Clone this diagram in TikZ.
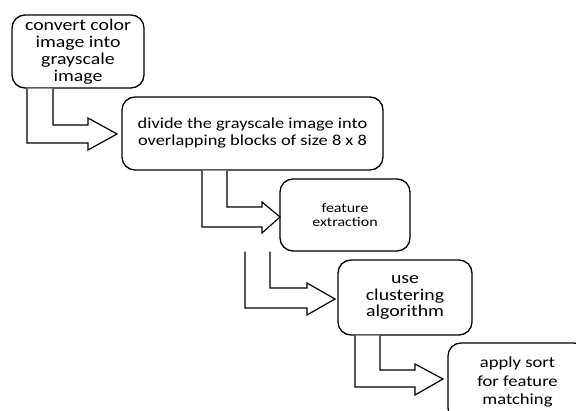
\documentclass[tikz,border=0pt]{standalone}
\usepackage{fontspec}
\setmainfont{Carlito}[FakeStretch=1.2]
\begin{document}
\begin{tikzpicture}[x=1pt,y=-1pt,
  stepbox/.style={draw=black,line width=1.3pt,rounded corners=13pt,align=center,inner sep=0pt},
  bentarrow/.style={draw=black,line width=1.2pt,fill=white,line join=miter}]
\useasboundingbox (0,0) rectangle (576,411);
\node[stepbox,minimum width=132pt,minimum height=73pt,font=\fontsize{16.5}{17}\selectfont] (b1) at (78,51.5) {convert color\\image into\\grayscale\\image};
\node[stepbox,minimum width=261pt,minimum height=73pt,font=\fontsize{15.3}{17}\selectfont] (b2) at (252.5,133.5) {divide the grayscale image into\\overlapping blocks of size 8 x 8};
\node[stepbox,minimum width=130pt,minimum height=72pt,font=\fontsize{13.3}{14}\selectfont] (b3) at (345,215) {feature\\extraction};
\node[stepbox,minimum width=134pt,minimum height=75pt,font=\fontsize{16.5}{16.5}\selectfont] (b4) at (405,297.5) {use\\clustering\\algorithm};
\node[stepbox,minimum width=139pt,minimum height=78pt,font=\fontsize{15.5}{18.5}\selectfont] (b5) at (517.5,382) {apply sort\\for feature\\matching};
% arrow 1
\draw[bentarrow] (27,0 |- b1.south) -- (27,143) -- (88,143) -- (88,150) -- (117,134) -- (88,118) -- (88,125) -- (53,125) -- (53,0 |- b1.south);
% arrow 2
\draw[bentarrow] (202,0 |- b2.south) -- (202,227) -- (262,227) -- (262,233) -- (280,217) -- (262,202) -- (262,207) -- (227,207) -- (227,0 |- b2.south);
% arrow 3
\draw[bentarrow] (245,0 |- b3.south) -- (245,308) -- (307,308) -- (307,315) -- (335,299) -- (307,283) -- (307,288) -- (270,288) -- (270,0 |- b3.south);
% arrow 4
\draw[bentarrow] (355,0 |- b4.south) -- (355,387) -- (415,387) -- (415,395) -- (443,379) -- (415,364) -- (415,370) -- (380,370) -- (380,0 |- b4.south);
\end{tikzpicture}
\end{document}
